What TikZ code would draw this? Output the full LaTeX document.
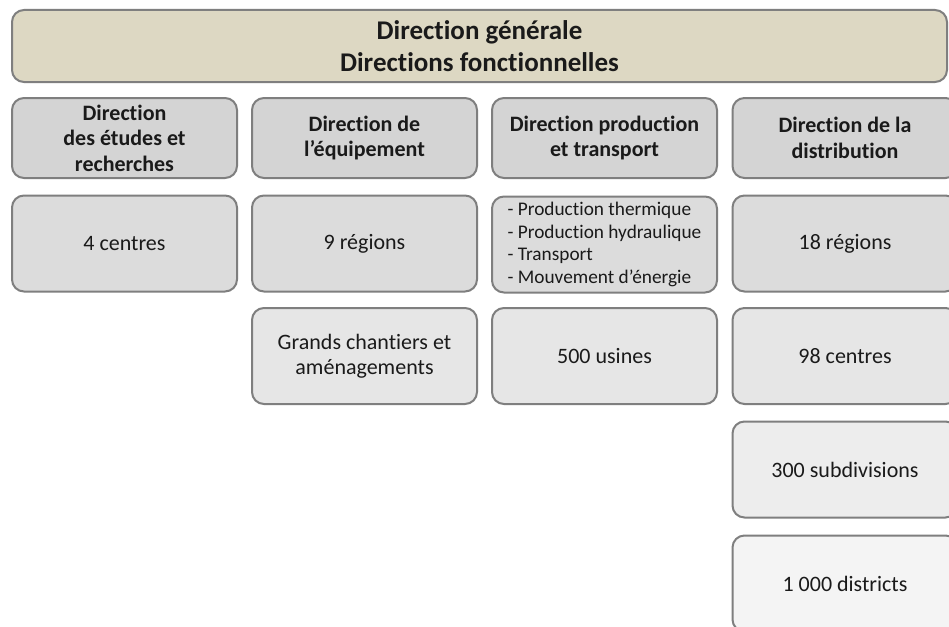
\documentclass[tikz,border=0pt]{standalone}
\usepackage{fontspec}
\setmainfont{Carlito}[Ligatures=NoCommon]
\usetikzlibrary{backgrounds}
\definecolor{bordc}{HTML}{7F7F7F}
\definecolor{headc}{HTML}{DDD8C3}
\definecolor{lvA}{HTML}{D4D4D4}
\definecolor{lvB}{HTML}{DCDCDC}
\definecolor{lvC}{HTML}{E6E6E6}
\definecolor{lvD}{HTML}{EDEDED}
\definecolor{lvE}{HTML}{F4F4F4}
\definecolor{txtc}{HTML}{1A1A1A}
\tikzset{
  box/.style={draw=bordc, line width=2pt, rounded corners=12pt, minimum width=225pt,
    align=center, inner sep=0pt, text=txtc},
  head/.style={box, fill=headc, minimum width=935pt, minimum height=72pt,
    font=\fontsize{27}{32}\selectfont\bfseries},
  dirbox/.style={box, fill=lvA, minimum height=80pt, font=\fontsize{22}{25.5}\selectfont\bfseries},
  unit/.style={box, minimum height=96pt, font=\fontsize{22}{24.5}\selectfont},
  link/.style={draw=bordc, line width=4pt}
}
\begin{document}
\begin{tikzpicture}[x=1pt, y=-1pt]
\clip (0,0) rectangle (949,626);
\useasboundingbox (0,0) rectangle (949,626);
\fill[white] (0,0) rectangle (949,626);
\node[head] (h) at (479.5,46) {Direction générale\\Directions fonctionnelles};
\node[dirbox] (d1) at (124.5,138) {Direction\\des études et\\recherches};
\node[dirbox] (d2) at (364.5,138) {Direction de\\l’équipement};
\node[dirbox] (d3) at (604.5,138) {Direction production\\et transport};
\node[dirbox] (d4) at (845,138) {Direction de la\\distribution};
\node[unit, fill=lvB] (a1) at (124.5,243.5) {4 centres};
\node[unit, fill=lvB] (b1) at (364.5,243.5) {9 régions};
\node[unit, fill=lvB, align=left, font=\fontsize{19.3}{22.7}\selectfont] (c1) at (604.5,244.5) {- Production thermique\\- Production hydraulique\\- Transport\\- Mouvement d’énergie};
\node[unit, fill=lvB] (e1) at (845,243.5) {18 régions};
\node[unit, fill=lvC] (b2) at (364.5,356) {Grands chantiers et\\aménagements};
\node[unit, fill=lvC] (c2) at (604.5,356) {500 usines};
\node[unit, fill=lvC] (e2) at (845,356) {98 centres};
\node[unit, fill=lvD] (e3) at (845,469.5) {300 subdivisions};
\node[unit, fill=lvE] (e4) at (845,583.5) {1 000 districts};
\begin{scope}[on background layer]
\foreach \d in {d1,d2,d3,d4} \path[link] (h.south -| \d.north) -- (\d.north);
\path[link] (d1) -- (a1);
\path[link] (d2) -- (b1);
\path[link] (b1) -- (b2);
\path[link] (d3) -- (c1);
\path[link] (c1) -- (c2);
\path[link] (d4) -- (e1);
\path[link] (e1) -- (e2);
\path[link] (e2) -- (e3);
\path[link] (e3) -- (e4);
\end{scope}
\end{tikzpicture}
\end{document}
